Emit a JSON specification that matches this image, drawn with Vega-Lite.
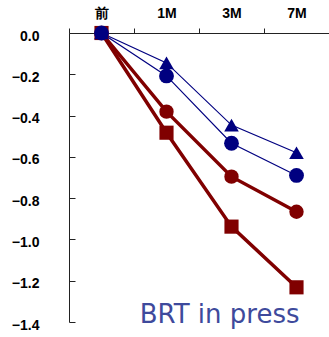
{
  "$schema": "https://vega.github.io/schema/vega-lite/v6.json",
  "autosize": {"type": "none"},
  "padding": {"left": 69, "top": 33, "right": 0, "bottom": 15},
  "width": 260,
  "height": 289,
  "background": "white",
  "config": {
    "view": {"stroke": null},
    "font": "Liberation Sans",
    "axis": {"grid": false, "domainColor": "#222", "tickColor": "#222", "labelColor": "#000", "labelFont": "Liberation Sans", "labelFontWeight": "bold", "labelFontSize": 14, "title": null}
  },
  "datasets": {
    "series": [
      {"time": "前", "value": 0, "series": "A"},
      {"time": "1M", "value": -0.483, "series": "A"},
      {"time": "3M", "value": -0.938, "series": "A"},
      {"time": "7M", "value": -1.232, "series": "A"},
      {"time": "前", "value": 0, "series": "B"},
      {"time": "1M", "value": -0.381, "series": "B"},
      {"time": "3M", "value": -0.696, "series": "B"},
      {"time": "7M", "value": -0.866, "series": "B"},
      {"time": "前", "value": 0, "series": "C"},
      {"time": "1M", "value": -0.145, "series": "C"},
      {"time": "3M", "value": -0.446, "series": "C"},
      {"time": "7M", "value": -0.58, "series": "C"},
      {"time": "前", "value": 0, "series": "D"},
      {"time": "1M", "value": -0.208, "series": "D"},
      {"time": "3M", "value": -0.534, "series": "D"},
      {"time": "7M", "value": -0.69, "series": "D"}
    ],
    "note": [
      {"time": "7M", "value": -1.405, "label": "BRT in press"}
    ]
  },
  "encoding": {
    "x": {
      "field": "time", "type": "nominal", "sort": ["前", "1M", "3M", "7M"],
      "bandPosition": 0.5,
      "scale": {"type": "band", "domain": ["前", "1M", "3M", "7M"], "paddingInner": 0, "paddingOuter": 0},
      "axis": {"orient": "top", "tickBand": "extent", "tickSize": 5, "labelPadding": 8, "labelAngle": 0, "domainWidth": 1}
    },
    "y": {
      "field": "value", "type": "quantitative",
      "scale": {"domain": [-1.4, 0], "nice": false, "zero": false},
      "axis": {"orient": "left", "values": [0, -0.2, -0.4, -0.6, -0.8, -1.0, -1.2, -1.4], "format": ".1f", "tickSize": -6, "labelPadding": 36, "labelOffset": 3, "domainWidth": 1}
    }
  },
  "layer": [
    {
      "data": {"name": "series"},
      "transform": [{"filter": "datum.series === 'A' || datum.series === 'B'"}],
      "mark": {"type": "line", "strokeWidth": 3.5},
      "encoding": {
        "detail": {"field": "series"},
        "color": {"value": "#800000"}
      }
    },
    {
      "data": {"name": "series"},
      "transform": [{"filter": "datum.series === 'C' || datum.series === 'D'"}],
      "mark": {"type": "line", "strokeWidth": 1.2},
      "encoding": {
        "detail": {"field": "series"},
        "color": {"value": "#000080"}
      }
    },
    {
      "data": {"name": "series"},
      "mark": {"type": "point", "filled": true, "opacity": 1},
      "encoding": {
        "color": {"field": "series", "type": "nominal", "scale": {"domain": ["A", "B", "C", "D"], "range": ["#800000", "#800000", "#000080", "#000080"]}, "legend": null},
        "shape": {"field": "series", "type": "nominal", "scale": {"domain": ["A", "B", "C", "D"], "range": ["square", "circle", "triangle-up", "circle"]}, "legend": null},
        "size": {"field": "series", "type": "ordinal", "scale": {"domain": ["A", "B", "C", "D"], "range": [200, 220, 140, 160]}, "legend": null}
      }
    },
    {
      "data": {"name": "note"},
      "mark": {"type": "text", "align": "right", "baseline": "alphabetic", "dx": 3, "font": "DejaVu Sans", "fontSize": 26, "color": "#3e4a9c"},
      "encoding": {
        "text": {"field": "label"}
      }
    }
  ]
}
